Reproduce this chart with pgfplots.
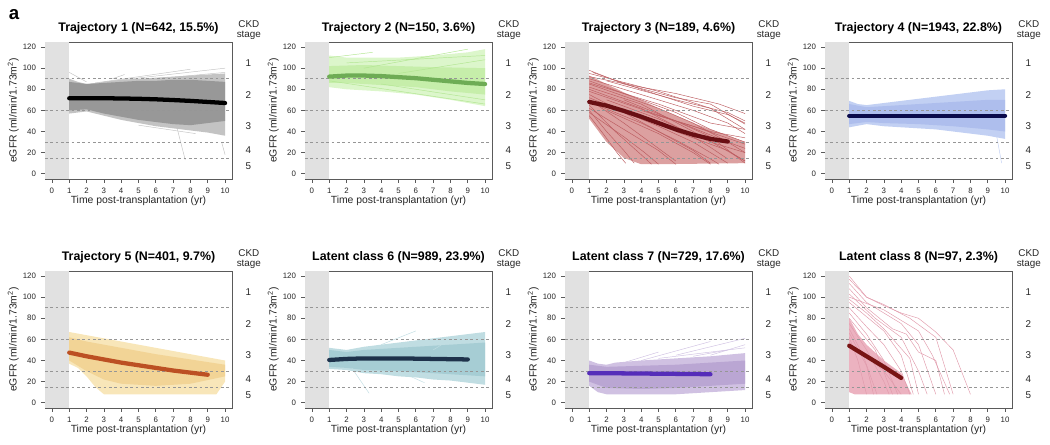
\documentclass[border=0pt]{standalone}
\usepackage{fontspec}
\setmainfont{Liberation Sans}
\usepackage{pgfplots}
\pgfplotsset{compat=1.18}

\definecolor{shade}{RGB}{225,225,225}
\definecolor{dsh}{RGB}{150,150,150}
\definecolor{axc}{RGB}{90,90,90}

\pgfplotsset{
 panel/.style={
  scale only axis, width=140.25pt, height=102.75pt, anchor=north west,
  xmin=-0.4, xmax=10.4, ymin=-5, ymax=124.8,
  xtick={0,1,...,10}, ytick={0,20,...,120},
  tick align=outside, tick pos=left,
  axis line style={draw=axc, line width=0.6pt},
  major tick length=3pt,
  every tick/.style={axc, line width=0.5pt},
  /pgf/number format/assume math mode=true,
  tick label style={font=\fontsize{5.9}{6.5}\selectfont, text=black!85},
  yticklabel style={xshift=-0.3pt},
  xlabel={Time post-transplantation (yr)},
  ylabel={eGFR (ml/min/1.73m\textsuperscript{2})},
  label style={font=\fontsize{7.8}{9}\selectfont, text=black!85},
  xlabel style={at={(axis description cs:0.5,-0.157)}, anchor=center},
  ylabel style={at={(axis description cs:-0.17,0.5)}, anchor=center},
  clip mode=individual,
 },
 sp/.style={#1, line width=0.35pt},
 mn/.style={#1, line width=3.2pt, line cap=round},
 bd/.style={fill=#1, draw=none},
}

\newcommand{\ptitle}[1]{\node[font=\bfseries\fontsize{9.3}{10}\selectfont, anchor=base, inner sep=0pt] at (rel axis cs:0.5,1.075) {#1};}
\newcommand{\grayreg}{\addplot[fill=shade, draw=none] coordinates {(-0.4,-5)(1,-5)(1,124.8)(-0.4,124.8)} -- cycle;}
\newcommand{\stages}{%
 \addplot[dsh, line width=0.5pt, dash pattern=on 2pt off 2pt] coordinates {(-0.4,90)(10.4,90)};
 \addplot[dsh, line width=0.5pt, dash pattern=on 2pt off 2pt] coordinates {(-0.4,60)(10.4,60)};
 \addplot[dsh, line width=0.5pt, dash pattern=on 2pt off 2pt] coordinates {(-0.4,30)(10.4,30)};
 \addplot[dsh, line width=0.5pt, dash pattern=on 2pt off 2pt] coordinates {(-0.4,15)(10.4,15)};
 \node[font=\fontsize{7.4}{7.6}\selectfont, align=center, text=black!85] at (rel axis cs:1.09,1.087) {CKD\\stage};
 \node[font=\fontsize{7.4}{8}\selectfont, text=black!85] at (axis cs:11.35,105) {1};
 \node[font=\fontsize{7.4}{8}\selectfont, text=black!85] at (axis cs:11.35,75) {2};
 \node[font=\fontsize{7.4}{8}\selectfont, text=black!85] at (axis cs:11.35,45) {3};
 \node[font=\fontsize{7.4}{8}\selectfont, text=black!85] at (axis cs:11.35,22.5) {4};
 \node[font=\fontsize{7.4}{8}\selectfont, text=black!85] at (axis cs:11.35,7.5) {5};
}

% colours
\definecolor{g1o}{RGB}{195,195,195}\definecolor{g1i}{RGB}{152,152,152}
\definecolor{g2o}{RGB}{220,246,203}\definecolor{g2i}{RGB}{198,238,170}\definecolor{g2l}{RGB}{178,230,145}\definecolor{g2m}{RGB}{110,172,85}
\definecolor{r3b}{RGB}{220,160,160}\definecolor{r3l}{RGB}{188,92,96}\definecolor{r3m}{RGB}{105,15,20}
\definecolor{b4o}{RGB}{194,208,243}\definecolor{b4i}{RGB}{174,190,237}\definecolor{b4m}{RGB}{10,10,75}
\definecolor{y5o}{RGB}{248,230,185}\definecolor{y5i}{RGB}{242,212,150}\definecolor{y5m}{RGB}{188,80,35}
\definecolor{t6o}{RGB}{192,221,226}\definecolor{t6i}{RGB}{166,205,212}\definecolor{t6m}{RGB}{30,50,75}
\definecolor{p7o}{RGB}{208,193,226}\definecolor{p7i}{RGB}{186,166,211}\definecolor{p7m}{RGB}{85,45,185}
\definecolor{k8b}{RGB}{236,178,192}\definecolor{k8l}{RGB}{225,155,172}\definecolor{k8m}{RGB}{120,20,20}

\begin{document}
\begin{tikzpicture}
\useasboundingbox (0,0) rectangle (787.5pt,-333.75pt);
\node[font=\bfseries\fontsize{14}{15}\selectfont] at (10.5pt,-11pt) {a};

% ---------- Panel 1 ----------
\begin{axis}[panel, at={(33.75pt,-31.5pt)}]
\ptitle{Trajectory 1 (N=642, 15.5\%)}
\grayreg
\addplot[bd=g1o] coordinates {(1,90)(1.5,87)(2,85)(3,87)(4,89)(5,90)(6,91)(7,92)(8,93)(9,94)(10,95)(10,36)(9,39)(8,41)(7,43)(6,45)(5,48)(4,51)(3,55)(2,59)(1,57)} -- cycle;
\addplot[bd=g1i] coordinates {(1,87)(2,85)(3,86)(4,87)(5,88)(6,88)(7,89)(8,89)(9,88)(10,87)(10,50)(9,48)(8,46)(7,47)(6,49)(5,51)(4,54)(3,57)(2,61)(1,60)} -- cycle;
\addplot[sp=g1o] coordinates {(1,96)(2,87)};
\addplot[sp=g1o] coordinates {(2.5,86)(8,99)};
\addplot[sp=g1o] coordinates {(3,87)(10,100)};
\addplot[sp=g1o] coordinates {(3.5,90)(4.2,94)};
\addplot[sp=g1o] coordinates {(7.2,45)(7.7,13)};
\addplot[sp=g1o] coordinates {(9.8,30)(10,18)};
\addplot[sp=g1o] coordinates {(5,46)(8.3,38)};
\addplot[sp=g1o] coordinates {(6,90)(10,96)};
\stages
\addplot[mn=black] coordinates {(1,71.5)(2,71.5)(3,71.5)(4,71.3)(5,71)(6,70.5)(7,69.8)(8,69)(9,68)(10,67)};
\end{axis}

% ---------- Panel 2 ----------
\begin{axis}[panel, at={(228.75pt,-31.5pt)}]
\ptitle{Trajectory 2 (N=150, 3.6\%)}
\grayreg
\addplot[bd=g2o] coordinates {(1,112)(2,110)(3,110)(5,110)(7,112)(9,115)(10,118)(10,64)(8,70)(6,75)(4,78)(2,80)(1,82)} -- cycle;
\addplot[bd=g2i] coordinates {(1,102)(3,103)(5,102)(7,101)(10,100)(10,75)(8,78)(6,82)(4,84)(2,86)(1,86)} -- cycle;
\addplot[sp=g2l] coordinates {(1,110)(3.5,115)};
\addplot[sp=g2l] coordinates {(2,105)(10,112)};
\addplot[sp=g2l] coordinates {(3,100)(9,118)};
\addplot[sp=g2l] coordinates {(1,88)(10,66)};
\addplot[sp=g2l] coordinates {(4,85)(10,70)};
\addplot[sp=g2l] coordinates {(5,95)(10,108)};
\stages
\addplot[mn=g2m] coordinates {(1,92)(2,93)(3,93)(4,92.5)(5,91.5)(6,90.5)(7,89)(8,87.5)(9,86)(10,85)};
\end{axis}

% ---------- Panel 3 ----------
\begin{axis}[panel, at={(423.75pt,-31.5pt)}]
\ptitle{Trajectory 3 (N=189, 4.6\%)}
\grayreg
\addplot[bd=r3b] coordinates {(1,93)(2,85)(3,77)(4,70)(5,62)(6,55)(7,48)(8,42)(9,36)(10,30)(10,10)(5,9)(4,9)(3,15)(2,30)(1,52)} -- cycle;
\addplot[sp=r3l] coordinates {(1,92)(4,82)(6,76)(8.5,66)(10,57)};
\addplot[sp=r3l] coordinates {(1,98)(3,85)(6,72)(8,66)(10,47)};
\addplot[sp=r3l] coordinates {(1,95)(5,78)(8,62)(10,42)};
\addplot[sp=r3l] coordinates {(1,90)(4,75)(7,60)(9,48)(10,38)};
\addplot[sp=r3l] coordinates {(1,88)(3,76)(6,58)(8,42)(10,30)};
\addplot[sp=r3l] coordinates {(1,85)(5,62)(7,48)(9,30)(10,20)};
\addplot[sp=r3l] coordinates {(1.2,96)(4,80)(7,64)(9,56)(10,48)};
\addplot[sp=r3l] coordinates {(1,80)(4,62)(6,45)(8,25)(9,14)};
\addplot[sp=r3l] coordinates {(1,75)(3,58)(5,40)(7,22)(8,10)};
\addplot[sp=r3l] coordinates {(1,70)(3,48)(4.5,30)(6,12)};
\addplot[sp=r3l] coordinates {(1,65)(2.5,40)(4,18)(4.6,9)};
\addplot[sp=r3l] coordinates {(1,60)(2,40)(3,22)(3.6,10)};
\addplot[sp=r3l] coordinates {(1,55)(1.8,38)(2.6,20)(3.1,10)};
\addplot[sp=r3l] coordinates {(1,86)(5,66)(8,48)(10,42)};
\addplot[sp=r3l] coordinates {(2,88)(6,70)(9,58)(10,50)};
\addplot[sp=r3l] coordinates {(1,78)(6,50)(9,30)(10,24)};
\addplot[sp=r3l] coordinates {(1,82)(4,66)(7,40)(10,12)};
\addplot[sp=r3l] coordinates {(3,70)(6,50)(8,35)(10,10)};
\addplot[sp=r3l] coordinates {(1,72)(5,45)(7,30)(9,10)};
\addplot[sp=r3l] coordinates {(6,40)(9,22)(10,12)};
\addplot[sp=r3l] coordinates {(1,68)(4,48)(6,32)(8,14)(8.5,9)};
\addplot[sp=r3l] coordinates {(1,62)(3,42)(5,22)(6,9)};
\addplot[sp=r3l] coordinates {(1,58)(3,35)(4.2,20)(5,9)};
\addplot[sp=r3l] coordinates {(2,70)(5,52)(8,30)(10,20)};
\addplot[sp=r3l] coordinates {(2,60)(5,38)(7,20)(8,9)};
\addplot[sp=r3l] coordinates {(4,60)(7,45)(10,28)};
\addplot[sp=r3l] coordinates {(5,55)(8,40)(10,34)};
\stages
\addplot[mn=r3m] coordinates {(1,68)(2,64.5)(3,59.5)(4,54)(5,48)(6,42)(7,37)(8,33)(9,30.5)};
\end{axis}

% ---------- Panel 4 ----------
\begin{axis}[panel, at={(618.75pt,-31.5pt)}]
\ptitle{Trajectory 4 (N=1943, 22.8\%)}
\grayreg
\addplot[bd=b4o] coordinates {(1,69)(1.5,66)(2,65)(3,67)(4,69)(5,71)(6,73)(7,75)(8,77)(9,79)(10,80)(10,33)(9,36)(8,38)(7,40)(6,42)(5,43)(4,44)(3,45)(2,47)(1,44)} -- cycle;
\addplot[bd=b4i] coordinates {(1,66)(2,63)(3,64)(5,66)(7,68)(9,70)(10,70)(10,40)(9,42)(7,45)(5,47)(3,48)(2,49)(1,47)} -- cycle;
\addplot[sp=b4o] coordinates {(9.5,37)(9.8,10)};
\stages
\addplot[mn=b4m] coordinates {(1,55)(10,55)};
\end{axis}

% ---------- Panel 5 ----------
\begin{axis}[panel, at={(33.75pt,-203.25pt)}]
\ptitle{Trajectory 5 (N=401, 9.7\%)}
\grayreg
\addplot[bd=y5o] coordinates {(1,67)(2,64)(3,61)(4,58)(5,55)(6,52)(7,49)(8,46)(9,43)(10,40)(10,20)(9.5,8)(3,8)(2.5,15)(2,25)(1.5,33)(1,37)} -- cycle;
\addplot[bd=y5i] coordinates {(1,62)(2,58)(4,52)(6,46)(8,41)(10,36)(10,25)(8,18)(6,16)(4,18)(3,22)(2,30)(1,40)} -- cycle;
\stages
\addplot[mn=y5m] coordinates {(1,47.5)(2,44)(3,41)(4,38)(5,35.5)(6,33)(7,30.5)(8,28.5)(9,26.5)};
\end{axis}

% ---------- Panel 6 ----------
\begin{axis}[panel, at={(228.75pt,-203.25pt)}]
\ptitle{Latent class 6 (N=989, 23.9\%)}
\grayreg
\addplot[bd=t6o] coordinates {(1,52)(2,50)(3,53)(4,55)(5,57)(6,59)(7,61)(8,63)(9,65)(10,67)(10,17)(9,19)(8,21)(7,22)(6,24)(5,25)(4,27)(3,28)(2,31)(1,32)} -- cycle;
\addplot[bd=t6i] coordinates {(1,50)(2,48)(3,50)(5,52)(7,54)(9,56)(10,57)(10,25)(9,26)(7,28)(5,30)(3,31)(2,33)(1,34)} -- cycle;
\addplot[sp=t6o] coordinates {(2.3,33)(3.3,9)};
\addplot[sp=t6o] coordinates {(5,30)(6.5,19)};
\addplot[sp=t6o] coordinates {(4,55)(6,68)};
\addplot[sp=t6o] coordinates {(7,50)(8,60)};
\stages
\addplot[mn=t6m] coordinates {(1,40.5)(2,41.5)(3,42)(5,42)(7,41.5)(9,41)};
\end{axis}

% ---------- Panel 7 ----------
\begin{axis}[panel, at={(423.75pt,-203.25pt)}]
\ptitle{Latent class 7 (N=729, 17.6\%)}
\grayreg
\addplot[bd=p7o] coordinates {(1,40)(1.5,37)(2,36)(2.5,38)(4,40)(6,42)(8,44)(10,47)(10,12)(8,10)(6,8)(2,8)(1.5,10)(1,16)} -- cycle;
\addplot[bd=p7i] coordinates {(1,36)(2,34)(4,35)(6,36)(8,38)(10,40)(10,18)(8,16)(6,14)(4,13)(2,14)(1,20)} -- cycle;
\addplot[sp=p7o] coordinates {(3,38)(5,48)};
\addplot[sp=p7o] coordinates {(4,40)(8,58)};
\addplot[sp=p7o] coordinates {(6,45)(10,61)};
\addplot[sp=p7o] coordinates {(5,42)(10,52)};
\addplot[sp=p7o] coordinates {(7,44)(9,50)};
\addplot[sp=p7o] coordinates {(8,45)(10,55)};
\stages
\addplot[mn=p7m] coordinates {(1,28)(3,27.8)(5,27.5)(8,27)};
\end{axis}

% ---------- Panel 8 ----------
\begin{axis}[panel, at={(618.75pt,-203.25pt)}]
\ptitle{Latent class 8 (N=97, 2.3\%)}
\grayreg
\addplot[bd=k8b] coordinates {(1,80)(1.5,65)(2,55)(3,40)(4,28)(4.6,8)(1.3,8)(1,10)} -- cycle;
\addplot[sp=k8l] coordinates {(1,120)(2,100)(3,92)(4,85)(5,80)(6,67)(7,50)(8,8)};
\addplot[sp=k8l] coordinates {(1,117)(2,100)(3,93)(4.5,80)(6,62)(7,8)};
\addplot[sp=k8l] coordinates {(1,113)(2,95)(4,75)(5,55)(6,8)};
\addplot[sp=k8l] coordinates {(1,108)(2,90)(3.5,70)(4.3,65)(5,48)(6,40)(6.5,8)};
\addplot[sp=k8l] coordinates {(1,103)(2.5,80)(4,62)(5,30)(5.5,8)};
\addplot[sp=k8l] coordinates {(1,98)(2,85)(3,70)(4.5,42)(5,8)};
\addplot[sp=k8l] coordinates {(1,95)(3,68)(4,45)(4.7,8)};
\addplot[sp=k8l] coordinates {(1,90)(2,72)(3,55)(4,30)(4.5,8)};
\addplot[sp=k8l] coordinates {(1,85)(2,65)(3,40)(3.8,8)};
\addplot[sp=k8l] coordinates {(1,80)(2.5,50)(3.5,8)};
\addplot[sp=k8l] coordinates {(1,75)(2,50)(3,20)(3.3,8)};
\addplot[sp=k8l] coordinates {(1,70)(1.8,45)(2.6,8)};
\addplot[sp=k8l] coordinates {(1,66)(2,35)(2.4,8)};
\addplot[sp=k8l] coordinates {(1,62)(1.5,40)(2,8)};
\addplot[sp=k8l] coordinates {(1,57)(3,30)(4,8)};
\addplot[sp=k8l] coordinates {(1,100)(3,88)(5,68)(5.8,45)(6.8,8)};
\stages
\addplot[mn=k8m] coordinates {(1,54)(2,44)(3,34)(4,23.5)};
\end{axis}
\end{tikzpicture}
\end{document}
